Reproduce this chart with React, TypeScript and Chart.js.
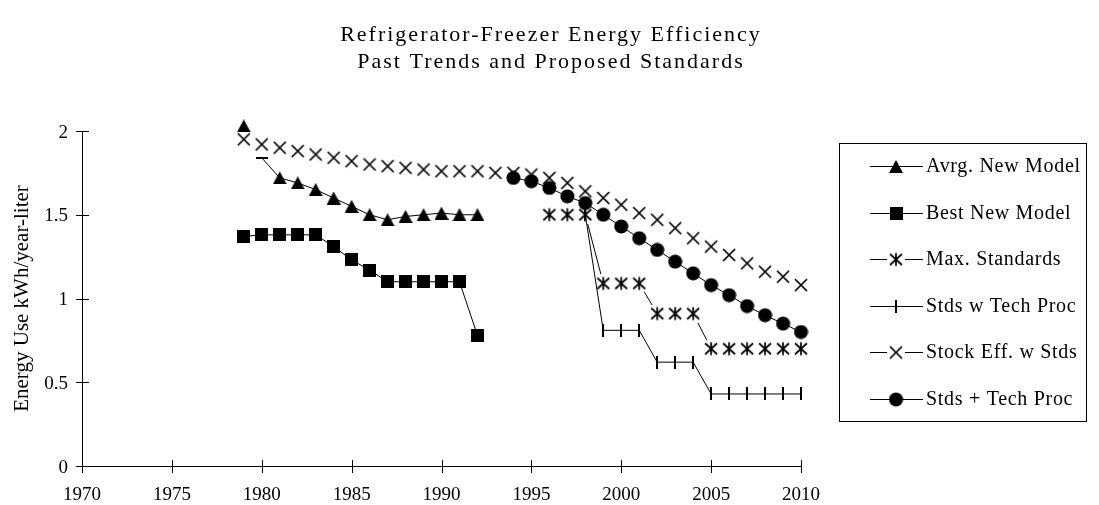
import React, { useEffect, useRef } from 'react';
import { Chart, registerables } from 'chart.js';

Chart.register(...registerables);

const TITLE_LINES = ['Refrigerator-Freezer Energy Efficiency', 'Past Trends and Proposed Standards'];
const Y_TITLE = 'Energy Use kWh/year-liter';
const X_TICKS = [1970, 1975, 1980, 1985, 1990, 1995, 2000, 2005, 2010];
const Y_TICKS = [0, 0.5, 1, 1.5, 2];
const Y_TICK_LABELS = ['0', '0.5', '1', '1.5', '2'];

const SERIES_LABELS = [
  'Avrg. New Model',
  'Best New Model',
  'Max. Standards',
  'Stds w Tech Proc',
  'Stock Eff. w Stds',
  'Stds + Tech Proc',
];

const avrgYears = [1979, 1980, 1981, 1982, 1983, 1984, 1985, 1986, 1987, 1988, 1989, 1990, 1991, 1992];
const avrgValues = [2.03, 1.84, 1.72, 1.69, 1.65, 1.6, 1.55, 1.5, 1.47, 1.49, 1.5, 1.51, 1.5, 1.5];

const bestYears = [1979, 1980, 1981, 1982, 1983, 1984, 1985, 1986, 1987, 1988, 1989, 1990, 1991, 1992];
const bestValues = [1.37, 1.38, 1.38, 1.38, 1.38, 1.31, 1.23, 1.17, 1.1, 1.1, 1.1, 1.1, 1.1, 0.78];

const maxStdYears = [1996, 1997, 1998, 1999, 2000, 2001, 2002, 2003, 2004, 2005, 2006, 2007, 2008, 2009, 2010];
const maxStdValues = [1.5, 1.5, 1.5, 1.09, 1.09, 1.09, 0.91, 0.91, 0.91, 0.7, 0.7, 0.7, 0.7, 0.7, 0.7];

const techYears = [1998, 1999, 2000, 2001, 2002, 2003, 2004, 2005, 2006, 2007, 2008, 2009, 2010];
const techValues = [1.5, 0.81, 0.81, 0.81, 0.62, 0.62, 0.62, 0.43, 0.43, 0.43, 0.43, 0.43, 0.43];

const stockYears = [
  1979, 1980, 1981, 1982, 1983, 1984, 1985, 1986, 1987, 1988, 1989, 1990, 1991, 1992, 1993, 1994,
  1995, 1996, 1997, 1998, 1999, 2000, 2001, 2002, 2003, 2004, 2005, 2006, 2007, 2008, 2009, 2010,
];
const stockValues = [
  1.95, 1.92, 1.9, 1.88, 1.86, 1.84, 1.82, 1.8, 1.79, 1.78, 1.77, 1.76, 1.76, 1.76, 1.75, 1.75,
  1.74, 1.72, 1.69, 1.64, 1.6, 1.56, 1.51, 1.47, 1.42, 1.36, 1.31, 1.26, 1.21, 1.16, 1.13, 1.08,
];

const stdsTechYears = [1994, 1995, 1996, 1997, 1998, 1999, 2000, 2001, 2002, 2003, 2004, 2005, 2006, 2007, 2008, 2009, 2010];
const stdsTechValues = [1.72, 1.7, 1.66, 1.61, 1.57, 1.5, 1.43, 1.36, 1.29, 1.22, 1.15, 1.08, 1.02, 0.955, 0.9, 0.85, 0.8];

const FONT = '"Liberation Serif", "Times New Roman", serif';

function toPoints(xs: number[], ys: number[]) {
  return xs.map((x, i) => ({ x, y: ys[i] }));
}

function makeMarker(w: number, h: number, draw: (c: CanvasRenderingContext2D) => void): HTMLCanvasElement {
  const cv = document.createElement('canvas');
  cv.width = w;
  cv.height = h;
  const c = cv.getContext('2d')!;
  draw(c);
  return cv;
}

export default function App() {
  const ref = useRef<HTMLCanvasElement | null>(null);

  useEffect(() => {
    document.body.style.margin = '0';
    const canvas = ref.current;
    if (!canvas) return;

    const triangle = makeMarker(14, 13, (c) => {
      c.fillStyle = '#000';
      c.beginPath();
      c.moveTo(7, 0);
      c.lineTo(14, 13);
      c.lineTo(0, 13);
      c.closePath();
      c.fill();
    });
    const dash = makeMarker(12, 2, (c) => {
      c.fillStyle = '#000';
      c.fillRect(0, 0, 12, 2);
    });
    const square = makeMarker(13, 13, (c) => {
      c.fillStyle = '#000';
      c.fillRect(0, 0, 13, 13);
    });
    const circle = makeMarker(15, 15, (c) => {
      c.fillStyle = '#000';
      c.beginPath();
      c.arc(7.5, 7.5, 7, 0, Math.PI * 2);
      c.fill();
    });
    const cross = makeMarker(18, 18, (c) => {
      c.fillStyle = '#fff';
      c.fillRect(0, 0, 18, 18);
      c.strokeStyle = '#000';
      c.lineWidth = 1.7;
      c.beginPath();
      c.moveTo(3, 3);
      c.lineTo(15, 15);
      c.moveTo(15, 3);
      c.lineTo(3, 15);
      c.stroke();
    });
    const asterisk = makeMarker(18, 18, (c) => {
      c.fillStyle = '#fff';
      c.fillRect(0, 0, 18, 18);
      c.strokeStyle = '#000';
      c.lineWidth = 1.7;
      c.beginPath();
      c.moveTo(3, 3.5);
      c.lineTo(15, 14.5);
      c.moveTo(15, 3.5);
      c.lineTo(3, 14.5);
      c.moveTo(9, 2.5);
      c.lineTo(9, 15.5);
      c.stroke();
    });
    const tick = makeMarker(2, 13, (c) => {
      c.fillStyle = '#000';
      c.fillRect(0, 0, 2, 13);
    });

    const legendMarkers = [triangle, square, asterisk, tick, cross, circle];

    const base = {
      borderColor: '#000',
      backgroundColor: '#000',
      borderWidth: 1,
      tension: 0,
      pointRadius: 8,
      clip: false as const,
      fill: false,
    };

    const decorations = {
      id: 'decorations',
      beforeDatasetsDraw(chart: any) {
        const ctx: CanvasRenderingContext2D = chart.ctx;
        const { left, right, top, bottom } = chart.chartArea;
        const xs = chart.scales.x;
        const ys = chart.scales.y;
        ctx.save();
        ctx.strokeStyle = '#000';
        ctx.lineWidth = 1;
        ctx.beginPath();
        ctx.moveTo(Math.round(left) + 0.5, top);
        ctx.lineTo(Math.round(left) + 0.5, bottom);
        ctx.moveTo(left, Math.round(bottom) + 0.5);
        ctx.lineTo(right, Math.round(bottom) + 0.5);
        X_TICKS.forEach((v) => {
          const px = Math.round(xs.getPixelForValue(v)) + 0.5;
          ctx.moveTo(px, bottom - 6);
          ctx.lineTo(px, bottom + 7);
        });
        Y_TICKS.forEach((v) => {
          const py = Math.round(ys.getPixelForValue(v)) + 0.5;
          ctx.moveTo(left - 6, py);
          ctx.lineTo(left + 7, py);
        });
        ctx.stroke();
        ctx.restore();
      },
      afterDraw(chart: any) {
        const ctx: CanvasRenderingContext2D = chart.ctx;
        const { top, bottom } = chart.chartArea;
        const xs = chart.scales.x;
        const ys = chart.scales.y;
        ctx.save();
        ctx.fillStyle = '#000';
        // tick labels
        ctx.font = `19px ${FONT}`;
        ctx.textAlign = 'center';
        ctx.textBaseline = 'alphabetic';
        X_TICKS.forEach((v) => {
          ctx.fillText(String(v), xs.getPixelForValue(v), 500);
        });
        ctx.textAlign = 'right';
        Y_TICKS.forEach((v, i) => {
          ctx.fillText(Y_TICK_LABELS[i], 68, ys.getPixelForValue(v) + 6.5);
        });
        // y title
        ctx.save();
        ctx.translate(22, (top + bottom) / 2);
        ctx.rotate(-Math.PI / 2);
        ctx.font = `21px ${FONT}`;
        ctx.textAlign = 'center';
        ctx.textBaseline = 'middle';
        ctx.fillText(Y_TITLE, 0, 0);
        ctx.restore();
        // title
        ctx.font = `22px ${FONT}`;
        (ctx as any).letterSpacing = '2px';
        ctx.textAlign = 'center';
        ctx.textBaseline = 'middle';
        ctx.fillText(TITLE_LINES[0], 551, 35);
        ctx.fillText(TITLE_LINES[1], 551, 62);
        (ctx as any).letterSpacing = '0px';
        // legend
        const lx = 839.5, ly = 143.5, lw = 247, lh = 278;
        ctx.strokeStyle = '#000';
        ctx.lineWidth = 1;
        ctx.strokeRect(lx, ly, lw, lh);
        ctx.font = `20px ${FONT}`;
        (ctx as any).letterSpacing = '0.7px';
        ctx.textAlign = 'left';
        ctx.textBaseline = 'middle';
        chart.data.datasets.forEach((ds: any, i: number) => {
          const y = 166 + i * 46.5;
          const yl = Math.round(y) + 0.5;
          ctx.beginPath();
          ctx.moveTo(870, yl);
          ctx.lineTo(923, yl);
          ctx.stroke();
          const m = legendMarkers[i];
          ctx.drawImage(m, 896 - m.width / 2, yl - m.height / 2);
          ctx.fillText(ds.label, 926, y + 1);
        });
        (ctx as any).letterSpacing = '0px';
        ctx.restore();
      },
    };

    const chart = new Chart(canvas, {
      type: 'line',
      data: {
        datasets: [
          {
            ...base,
            label: SERIES_LABELS[0],
            data: toPoints(avrgYears, avrgValues),
            pointStyle: avrgYears.map((_, i) => (i === 1 ? dash : triangle)) as any,
            segment: {
              borderColor: (c: any) => (c.p0DataIndex === 0 ? 'rgba(0,0,0,0)' : undefined),
            },
            order: 2,
          },
          {
            ...base,
            label: SERIES_LABELS[1],
            data: toPoints(bestYears, bestValues),
            pointStyle: square as any,
            order: 3,
          },
          {
            ...base,
            label: SERIES_LABELS[2],
            data: toPoints(maxStdYears, maxStdValues),
            pointStyle: asterisk as any,
            order: 5,
          },
          {
            ...base,
            label: SERIES_LABELS[3],
            data: toPoints(techYears, techValues),
            pointStyle: tick as any,
            order: 4,
          },
          {
            ...base,
            label: SERIES_LABELS[4],
            data: toPoints(stockYears, stockValues),
            pointStyle: cross as any,
            order: 6,
          },
          {
            ...base,
            label: SERIES_LABELS[5],
            data: toPoints(stdsTechYears, stdsTechValues),
            pointStyle: circle as any,
            order: 1,
          },
        ] as any,
      },
      options: {
        animation: false,
        responsive: false,
        devicePixelRatio: 1,
        events: [],
        layout: { padding: { left: 82, top: 131, right: 298, bottom: 39 } },
        plugins: {
          legend: { display: false },
          title: { display: false },
          tooltip: { enabled: false },
        },
        scales: {
          x: { type: 'linear', min: 1970, max: 2010, display: false },
          y: { type: 'linear', min: 0, max: 2, display: false },
        },
      },
      plugins: [decorations],
    });

    return () => chart.destroy();
  }, []);

  return (
    <div style={{ width: 1099, height: 505, background: '#fff' }}>
      <canvas ref={ref} width={1099} height={505} style={{ display: 'block', width: 1099, height: 505 }} />
    </div>
  );
}
